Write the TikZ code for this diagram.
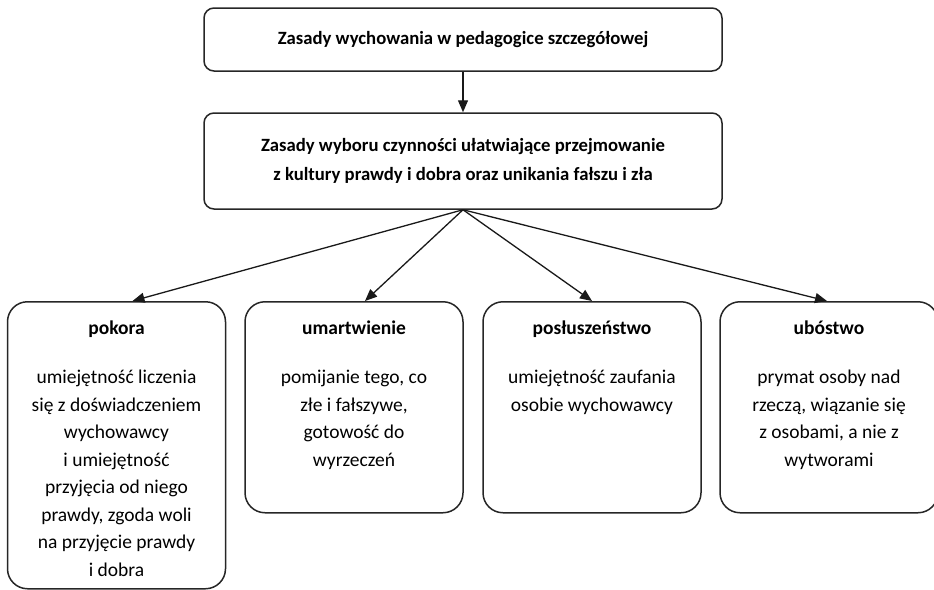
\documentclass[tikz,border=0pt]{standalone}
\usepackage{fontspec}
\setmainfont{Carlito}
\usepackage{tikz}
\usetikzlibrary{calc}
\usetikzlibrary{arrows.meta}
\usetikzlibrary{positioning}
\tikzset{headbox/.style={draw=black!85,line width=1.5pt,rounded corners=10pt,minimum width=518pt,align=center,font=\bfseries\fontsize{18.7}{29.5}\selectfont}}
\tikzset{leafbox/.style={draw=black!85,line width=1.5pt,rounded corners=20pt,minimum width=218pt,anchor=north}}
\tikzset{leaftext/.style={anchor=north,align=center,inner sep=0pt,font=\fontsize{19.5}{27.5}\selectfont}}
\tikzset{link/.style={-{Triangle[length=12pt,width=10pt]},line width=1.3pt,draw=black!90}}

\begin{document}
\begin{tikzpicture}[x=1pt,y=-1pt]
\useasboundingbox (0,0) rectangle (934,589);

\node (zasady) at (463,39.5) [headbox,minimum height=63pt] {Zasady wychowania w pedagogice szczegółowej};
\node (wybor) at (463,161) [headbox,minimum height=96pt] {Zasady wyboru czynności ułatwiające przejmowanie\\z kultury prawdy i dobra oraz unikania fałszu i zła};
\draw[link] (zasady) -- (wybor);

% the four leaf boxes
\foreach \name / \x / \h in {pokora/116.5/287,umartwienie/354/211,posluszenstwo/592/211,ubostwo/829/211}
{
	\node (\name) at (\x,301) [leafbox,minimum height=\h pt] {};
}

\node (pokora-t) at ($(pokora.north)+(0,20)$) [leaftext] {\textbf{pokora}\\[21.5pt]umiejętność liczenia\\się z doświadczeniem\\wychowawcy\\i umiejętność\\przyjęcia od niego\\prawdy, zgoda woli\\na przyjęcie prawdy\\i dobra};
\node (umartwienie-t) at ($(umartwienie.north)+(0,20)$) [leaftext] {\textbf{umartwienie}\\[21.5pt]pomijanie tego, co\\złe i fałszywe,\\gotowość do\\wyrzeczeń};
\node (posluszenstwo-t) at ($(posluszenstwo.north)+(0,20)$) [leaftext] {\textbf{posłuszeństwo}\\[21.5pt]umiejętność zaufania\\osobie wychowawcy};
\node (ubostwo-t) at ($(ubostwo.north)+(0,20)$) [leaftext] {\textbf{ubóstwo}\\[21.5pt]prymat osoby nad\\rzeczą, wiązanie się\\z osobami, a nie z\\wytworami};

\foreach \name / \dx in {pokora/16,umartwienie/11,posluszenstwo/0,ubostwo/-2}
{
	\draw[link] (wybor.south) -- ($(\name.north)+(\dx,0)$);
}
\end{tikzpicture}
\end{document}
